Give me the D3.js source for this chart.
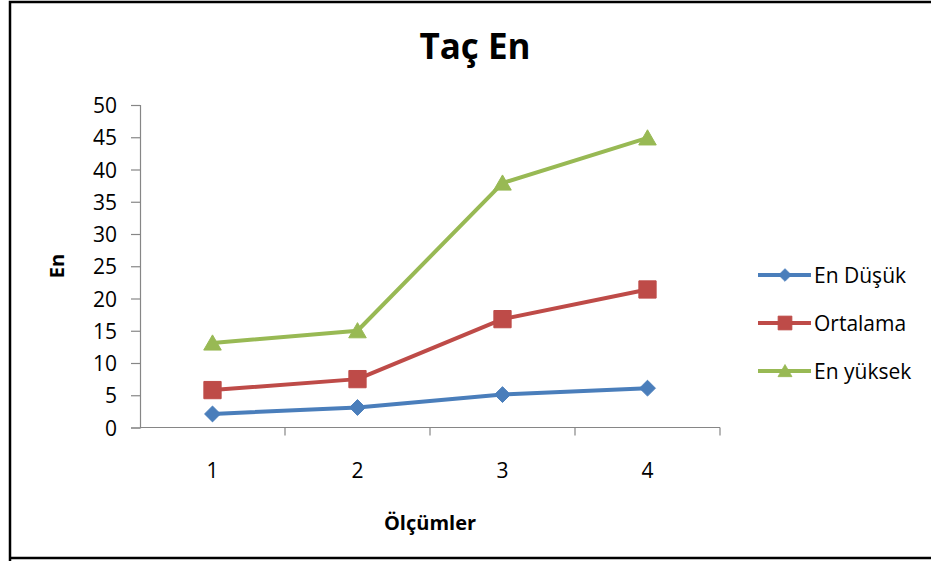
<!DOCTYPE html>
<html>
<head>
<meta charset="utf-8">
<script src="https://cdn.jsdelivr.net/npm/d3@7"></script>
<style>
  html, body { margin: 0; padding: 0; background: #fff; }
  svg { display: block; }
  text { font-family: "Open Sans", Lato, sans-serif; fill: #000; }
</style>
</head>
<body>
<svg id="chart" width="931" height="561"></svg>
<script>
// Chart data
const categories = ["1", "2", "3", "4"];
const seriesNames = ["En Düşük", "Ortalama", "En yüksek"];
const enDusuk = [2.1, 3.1, 5.1, 6.1];
const ortalama = [5.8, 7.5, 16.8, 21.4];
const enYuksek = [13.1, 15.0, 37.9, 44.9];
const yTicks = [0, 5, 10, 15, 20, 25, 30, 35, 40, 45, 50];
const seriesColors = ["#4a7ebb", "#be4b48", "#98b954"];
const seriesShapes = ["diamond", "square", "triangle"];

const series = seriesNames.map((name, i) => ({
  name,
  values: [enDusuk, ortalama, enYuksek][i],
  color: seriesColors[i],
  shape: seriesShapes[i]
}));

const svg = d3.select("#chart");

// Frame around the chart area
svg.append("path")
  .attr("d", "M10,561 V2 H931 M10,558 H931")
  .attr("fill", "none")
  .attr("stroke", "#000")
  .attr("stroke-width", 2.5);

const plot = { left: 140, right: 720, top: 105, bottom: 427.5 };

const x = d3.scaleBand().domain(categories).range([plot.left, plot.right]);
const y = d3.scaleLinear().domain([0, 50]).range([plot.bottom, plot.top]);

// Y axis
const yAxis = svg.append("g")
  .attr("transform", `translate(${plot.left},0)`)
  .call(d3.axisLeft(y).tickValues(yTicks).tickSize(9).tickPadding(14));
yAxis.select(".domain").attr("stroke", "#868686").attr("stroke-width", 1.2);
yAxis.selectAll(".tick line").attr("stroke", "#868686").attr("stroke-width", 1.2);
yAxis.selectAll(".tick text")
  .attr("font-size", 21)
  .attr("fill", "#000")
  .attr("dy", "0.36em")
  .style("font-family", "'Open Sans', Lato, sans-serif");

// X axis with ticks between categories
const xAxisG = svg.append("g").attr("transform", `translate(0,${plot.bottom})`);
xAxisG.append("line")
  .attr("x1", plot.left).attr("x2", plot.right)
  .attr("stroke", "#868686").attr("stroke-width", 1.2);
const boundaries = categories.slice(1).map(c => x(c)).concat([plot.right]);
xAxisG.selectAll("line.tk").data(boundaries).join("line")
  .attr("class", "tk")
  .attr("x1", d => d).attr("x2", d => d)
  .attr("y1", 0).attr("y2", 8)
  .attr("stroke", "#868686").attr("stroke-width", 1.2);
xAxisG.selectAll("text.lbl").data(categories).join("text")
  .attr("class", "lbl")
  .attr("x", d => x(d) + x.bandwidth() / 2)
  .attr("y", 50)
  .attr("text-anchor", "middle")
  .attr("font-size", 21)
  .text(d => d);

// Titles
svg.append("text")
  .attr("x", 475).attr("y", 59)
  .attr("text-anchor", "middle")
  .attr("font-size", 35)
  .attr("font-weight", "bold")
  .text("Taç En");

svg.append("text")
  .attr("x", 430).attr("y", 530)
  .attr("text-anchor", "middle")
  .attr("font-size", 20)
  .attr("font-weight", "bold")
  .text("Ölçümler");

svg.append("text")
  .attr("transform", "translate(64,266) rotate(-90)")
  .attr("text-anchor", "middle")
  .attr("font-size", 20)
  .attr("font-weight", "bold")
  .text("En");

// Marker shapes
const symbolFor = {
  diamond: d3.symbol().type(d3.symbolDiamond2).size(160),
  square: d3.symbol().type(d3.symbolSquare2).size(380),
  triangle: d3.symbol().type(d3.symbolTriangle2).size(220)
};
function drawMarker(g, shape, color) {
  const p = g.append("path")
    .attr("d", symbolFor[shape]())
    .attr("fill", color)
    .attr("stroke", color)
    .attr("stroke-width", 1);
  if (shape === "triangle") p.attr("transform", "translate(0,2)");
  return p;
}

const line = d3.line()
  .x((d, i) => x(categories[i]) + x.bandwidth() / 2)
  .y(d => y(d));

series.forEach(s => {
  svg.append("path")
    .datum(s.values)
    .attr("d", line)
    .attr("fill", "none")
    .attr("stroke", s.color)
    .attr("stroke-width", 4)
    .attr("stroke-linejoin", "round");
  s.values.forEach((v, i) => {
    const g = svg.append("g")
      .attr("transform", `translate(${x(categories[i]) + x.bandwidth() / 2},${y(v)})`);
    drawMarker(g, s.shape, s.color);
  });
});

// Legend
const legend = svg.append("g");
const legendRows = [275, 323, 371];
series.forEach((s, i) => {
  const g = legend.append("g").attr("transform", `translate(0,${legendRows[i]})`);
  g.append("line")
    .attr("x1", 758).attr("x2", 811)
    .attr("stroke", s.color).attr("stroke-width", 4);
  const m = g.append("g").attr("transform", "translate(785,0) scale(0.8)");
  drawMarker(m, s.shape, s.color);
  g.append("text")
    .attr("x", 814).attr("y", 0)
    .attr("dy", "0.36em")
    .attr("font-size", 21)
    .text(s.name);
});
</script>
</body>
</html>
